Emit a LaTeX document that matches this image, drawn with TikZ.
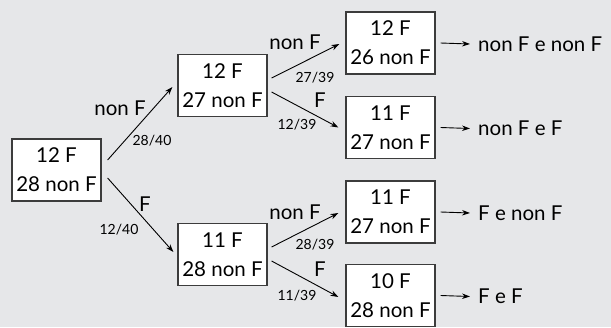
\documentclass[tikz,border=0pt]{standalone}
\usepackage{fontspec}
\setmainfont{Lato}
\usetikzlibrary{arrows.meta}
\definecolor{bg}{RGB}{230,231,233}
\definecolor{boxline}{RGB}{60,60,60}
\begin{document}
\begin{tikzpicture}[x=1pt,y=-1pt,
  box/.style={draw=boxline, line width=1.2pt, fill=white, minimum width=89pt, minimum height=62pt, inner sep=0pt, align=center, font=\fontsize{20.5}{29}\selectfont},
  lab/.style={font=\fontsize{20.5}{24}\selectfont, inner sep=0pt},
  fr/.style={font=\fontsize{14}{16}\selectfont, inner sep=0pt},
  res/.style={font=\fontsize{20.5}{24}\selectfont, inner sep=0pt, anchor=west},
  arr/.style={line width=0.9pt, -{Stealth[length=8pt,width=5.5pt]}}]
\fill[bg] (0,0) rectangle (611,327);
\useasboundingbox (0,0) rectangle (611,327);
% boxes
\node[box] (root) at (56.5,170) {12 F\\28 non F};
\node[box] (b) at (222.5,85.5) {12 F\\27 non F};
\node[box] (c) at (222.5,254.5) {11 F\\28 non F};
\node[box] (r1) at (390.5,43) {12 F\\26 non F};
\node[box] (r2) at (390.5,127.5) {11 F\\27 non F};
\node[box] (r3) at (390.5,212) {11 F\\27 non F};
\node[box] (r4) at (390.5,295.5) {10 F\\28 non F};
% results
\node[res] (t1) at (478,44) {non F e non F};
\node[res] (t2) at (478,128.5) {non F e F};
\node[res] (t3) at (478,213) {F e non F};
\node[res] (t4) at (478,296.5) {F e F};
% edges
\draw[arr] ([shift={(6,-10)}]root.east) -- ([shift={(-5,1.5)}]b.west);
\draw[arr] ([shift={(6,8)}]root.east) -- ([shift={(-4,-2.5)}]c.west);
\draw[arr] ([shift={(4,-7.5)}]b.east) -- ([shift={(-6,1)}]r1.west);
\draw[arr] ([shift={(4,6.5)}]b.east) -- ([shift={(-7,0)}]r2.west);
\draw[arr] ([shift={(4,-7.5)}]c.east) -- ([shift={(-7,1)}]r3.west);
\draw[arr] ([shift={(4,6.5)}]c.east) -- ([shift={(-7,1.5)}]r4.west);
\foreach \i in {1,...,4}{
  \draw[arr] ([xshift=5]r\i.east) -- ([xshift=-8]t\i.west);
}
% edge labels
\node[lab] (l1) at (120,108) {non F};
\node[fr] (f1) at (152,141) {28/40};
\node[lab] (l2) at (145,204.5) {F};
\node[fr] (f2) at (119,230) {12/40};
\node[lab] (l3) at (295,42.5) {non F};
\node[fr] (f3) at (315,78) {27/39};
\node[lab] (l4) at (320,100) {F};
\node[fr] (f4) at (297,125) {12/39};
\node[lab] (l5) at (295,212.5) {non F};
\node[fr] (f5) at (315,245) {28/39};
\node[lab] (l6) at (320,269) {F};
\node[fr] (f6) at (297,295.5) {11/39};
\end{tikzpicture}
\end{document}
